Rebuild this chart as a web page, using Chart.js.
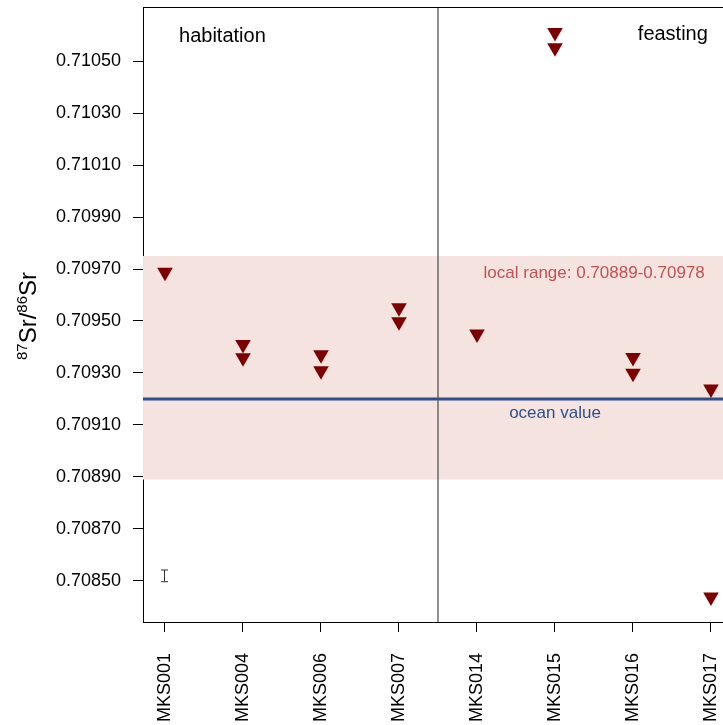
<!DOCTYPE html>
<html>
<head>
<meta charset="utf-8">
<script src="https://cdn.jsdelivr.net/npm/chart.js@4.4.1/dist/chart.umd.min.js"></script>
<style>
  body { margin: 0; background: #fff; overflow: hidden; }
  #wrap { width: 723px; height: 725px; }
</style>
</head>
<body>
<div id="wrap"><canvas id="grafico" width="723" height="725"></canvas></div>
<script>
/* dados */
const amostras = ["MKS001", "MKS004", "MKS006", "MKS007", "MKS014", "MKS015", "MKS016", "MKS017"];
const medidaA = [0.709688, 0.709410, 0.709370, 0.709551, 0.709450, 0.710610, 0.709360, 0.709238];
const medidaB = [null, 0.709359, 0.709309, 0.709497, null, 0.710551, 0.709299, 0.708438];
const ticksY = [0.70850, 0.70870, 0.70890, 0.70910, 0.70930, 0.70950, 0.70970, 0.70990, 0.71010, 0.71030, 0.71050];

const faixaLocal = [0.70889, 0.70975];
const valorOceano = 0.70920;
const divisaoGrupos = 3.5;
const barraErro = { x: 0, baixo: 0.708497, alto: 0.708542 };

const FONTE = "'Liberation Sans', Arial, sans-serif";
const VERMELHO = "#7c0000";
const AZUL = "#2d4f8e";

function pontos(valores) {
    return valores.map((v, i) => v === null ? null : { x: i, y: v }).filter(p => p);
}

/* ============================
   PLUGIN DE FUNDO E TEXTOS
============================ */

const decoracao = {
    id: "decoracao",
    beforeDatasetsDraw(chart) {
        const { ctx, chartArea: a, scales: { x, y } } = chart;
        ctx.save();
        // faixa local
        const y1 = y.getPixelForValue(faixaLocal[1]);
        const y0 = y.getPixelForValue(faixaLocal[0]);
        ctx.fillStyle = "#f5e3df";
        ctx.fillRect(a.left, y1, a.right - a.left, y0 - y1);
        // linha do oceano
        const yo = y.getPixelForValue(valorOceano);
        ctx.strokeStyle = AZUL;
        ctx.lineWidth = 3;
        ctx.beginPath();
        ctx.moveTo(a.left, yo);
        ctx.lineTo(a.right, yo);
        ctx.stroke();
        // divisão habitation / feasting
        const xd = x.getPixelForValue(divisaoGrupos);
        ctx.strokeStyle = "#555";
        ctx.lineWidth = 1.3;
        ctx.beginPath();
        ctx.moveTo(xd, a.top);
        ctx.lineTo(xd, a.bottom);
        ctx.stroke();
        ctx.restore();
    },
    afterDraw(chart) {
        const { ctx, chartArea: a, scales: { x, y } } = chart;
        ctx.save();
        // borda superior
        ctx.strokeStyle = "#000";
        ctx.lineWidth = 1;
        ctx.beginPath();
        ctx.moveTo(a.left, a.top + 0.5);
        ctx.lineTo(a.right, a.top + 0.5);
        ctx.stroke();

        // barra de erro
        const xe = Math.round(x.getPixelForValue(barraErro.x)) - 0.5;
        const ya = y.getPixelForValue(barraErro.alto);
        const yb = y.getPixelForValue(barraErro.baixo);
        ctx.strokeStyle = "#333";
        ctx.beginPath();
        ctx.moveTo(xe, ya); ctx.lineTo(xe, yb);
        ctx.moveTo(xe - 3.5, ya); ctx.lineTo(xe + 3.5, ya);
        ctx.moveTo(xe - 3.5, yb); ctx.lineTo(xe + 3.5, yb);
        ctx.stroke();

        // textos
        ctx.textBaseline = "middle";
        ctx.fillStyle = "#000";
        ctx.font = "20px " + FONTE;
        ctx.textAlign = "left";
        ctx.fillText("habitation", x.getPixelForValue(0.18), y.getPixelForValue(0.710596));
        ctx.textAlign = "right";
        ctx.fillText("feasting", x.getPixelForValue(6.96), y.getPixelForValue(0.710604));

        ctx.font = "17px " + FONTE;
        ctx.fillStyle = "#c05252";
        ctx.fillText("local range: 0.70889-0.70978", x.getPixelForValue(6.92), y.getPixelForValue(0.709685));
        ctx.textAlign = "center";
        ctx.fillStyle = AZUL;
        ctx.fillText("ocean value", x.getPixelForValue(5.0), y.getPixelForValue(0.709146));

        // título do eixo y: 87Sr/86Sr
        const partes = [
            { t: "87", f: 15, d: -9 },
            { t: "Sr/", f: 24, d: 0 },
            { t: "86", f: 15, d: -9 },
            { t: "Sr", f: 24, d: 0 }
        ];
        let total = 0;
        partes.forEach(p => { ctx.font = p.f + "px " + FONTE; p.w = ctx.measureText(p.t).width; total += p.w; });
        ctx.translate(36, 316);
        ctx.rotate(-Math.PI / 2);
        ctx.textAlign = "left";
        ctx.textBaseline = "alphabetic";
        ctx.fillStyle = "#000";
        let pos = -total / 2;
        partes.forEach(p => {
            ctx.font = p.f + "px " + FONTE;
            ctx.fillText(p.t, pos, p.d);
            pos += p.w;
        });
        ctx.restore();
    }
};

/* ============================
   GRÁFICO
============================ */

const estiloPonto = {
    showLine: false,
    pointStyle: "triangle",
    pointRotation: 180,
    pointRadius: 9,
    pointHoverRadius: 9,
    backgroundColor: VERMELHO,
    borderColor: VERMELHO,
    borderWidth: 0
};

new Chart(document.getElementById("grafico").getContext("2d"), {
    type: "scatter",
    data: {
        datasets: [
            { label: "A", data: pontos(medidaA), ...estiloPonto },
            { label: "B", data: pontos(medidaB), ...estiloPonto }
        ]
    },
    options: {
        responsive: false,
        animation: false,
        layout: { autoPadding: false, padding: { top: 7, left: 0, right: 0, bottom: 0 } },
        plugins: {
            legend: { display: false },
            tooltip: { enabled: false }
        },
        scales: {
            x: {
                type: "linear",
                min: -0.282,
                max: 7.154,
                afterBuildTicks: s => { s.ticks = amostras.map((_, i) => ({ value: i })); },
                afterFit: s => {
                    s.height = 103;
                    s.paddingLeft = 0;
                    s.paddingRight = 0;
                },
                grid: { drawOnChartArea: false, drawTicks: true, tickLength: 10, color: "#000" },
                border: { display: true, color: "#000", width: 1 },
                ticks: {
                    autoSkip: false,
                    minRotation: 90,
                    maxRotation: 90,
                    padding: 21,
                    color: "#000",
                    font: { family: FONTE, size: 18 },
                    callback: v => amostras[v]
                }
            },
            y: {
                type: "linear",
                min: 0.708342,
                max: 0.710708,
                afterBuildTicks: s => { s.ticks = ticksY.map(v => ({ value: v })); },
                afterFit: s => {
                    s.width = 143;
                    s.paddingTop = 0;
                    s.paddingBottom = 0;
                },
                grid: { drawOnChartArea: false, drawTicks: true, tickLength: 10, color: "#000" },
                border: { display: true, color: "#000", width: 1 },
                ticks: {
                    padding: 12,
                    color: "#000",
                    font: { family: FONTE, size: 18 },
                    callback: v => v.toFixed(5)
                }
            }
        }
    },
    plugins: [decoracao]
});
</script>
</body>
</html>
